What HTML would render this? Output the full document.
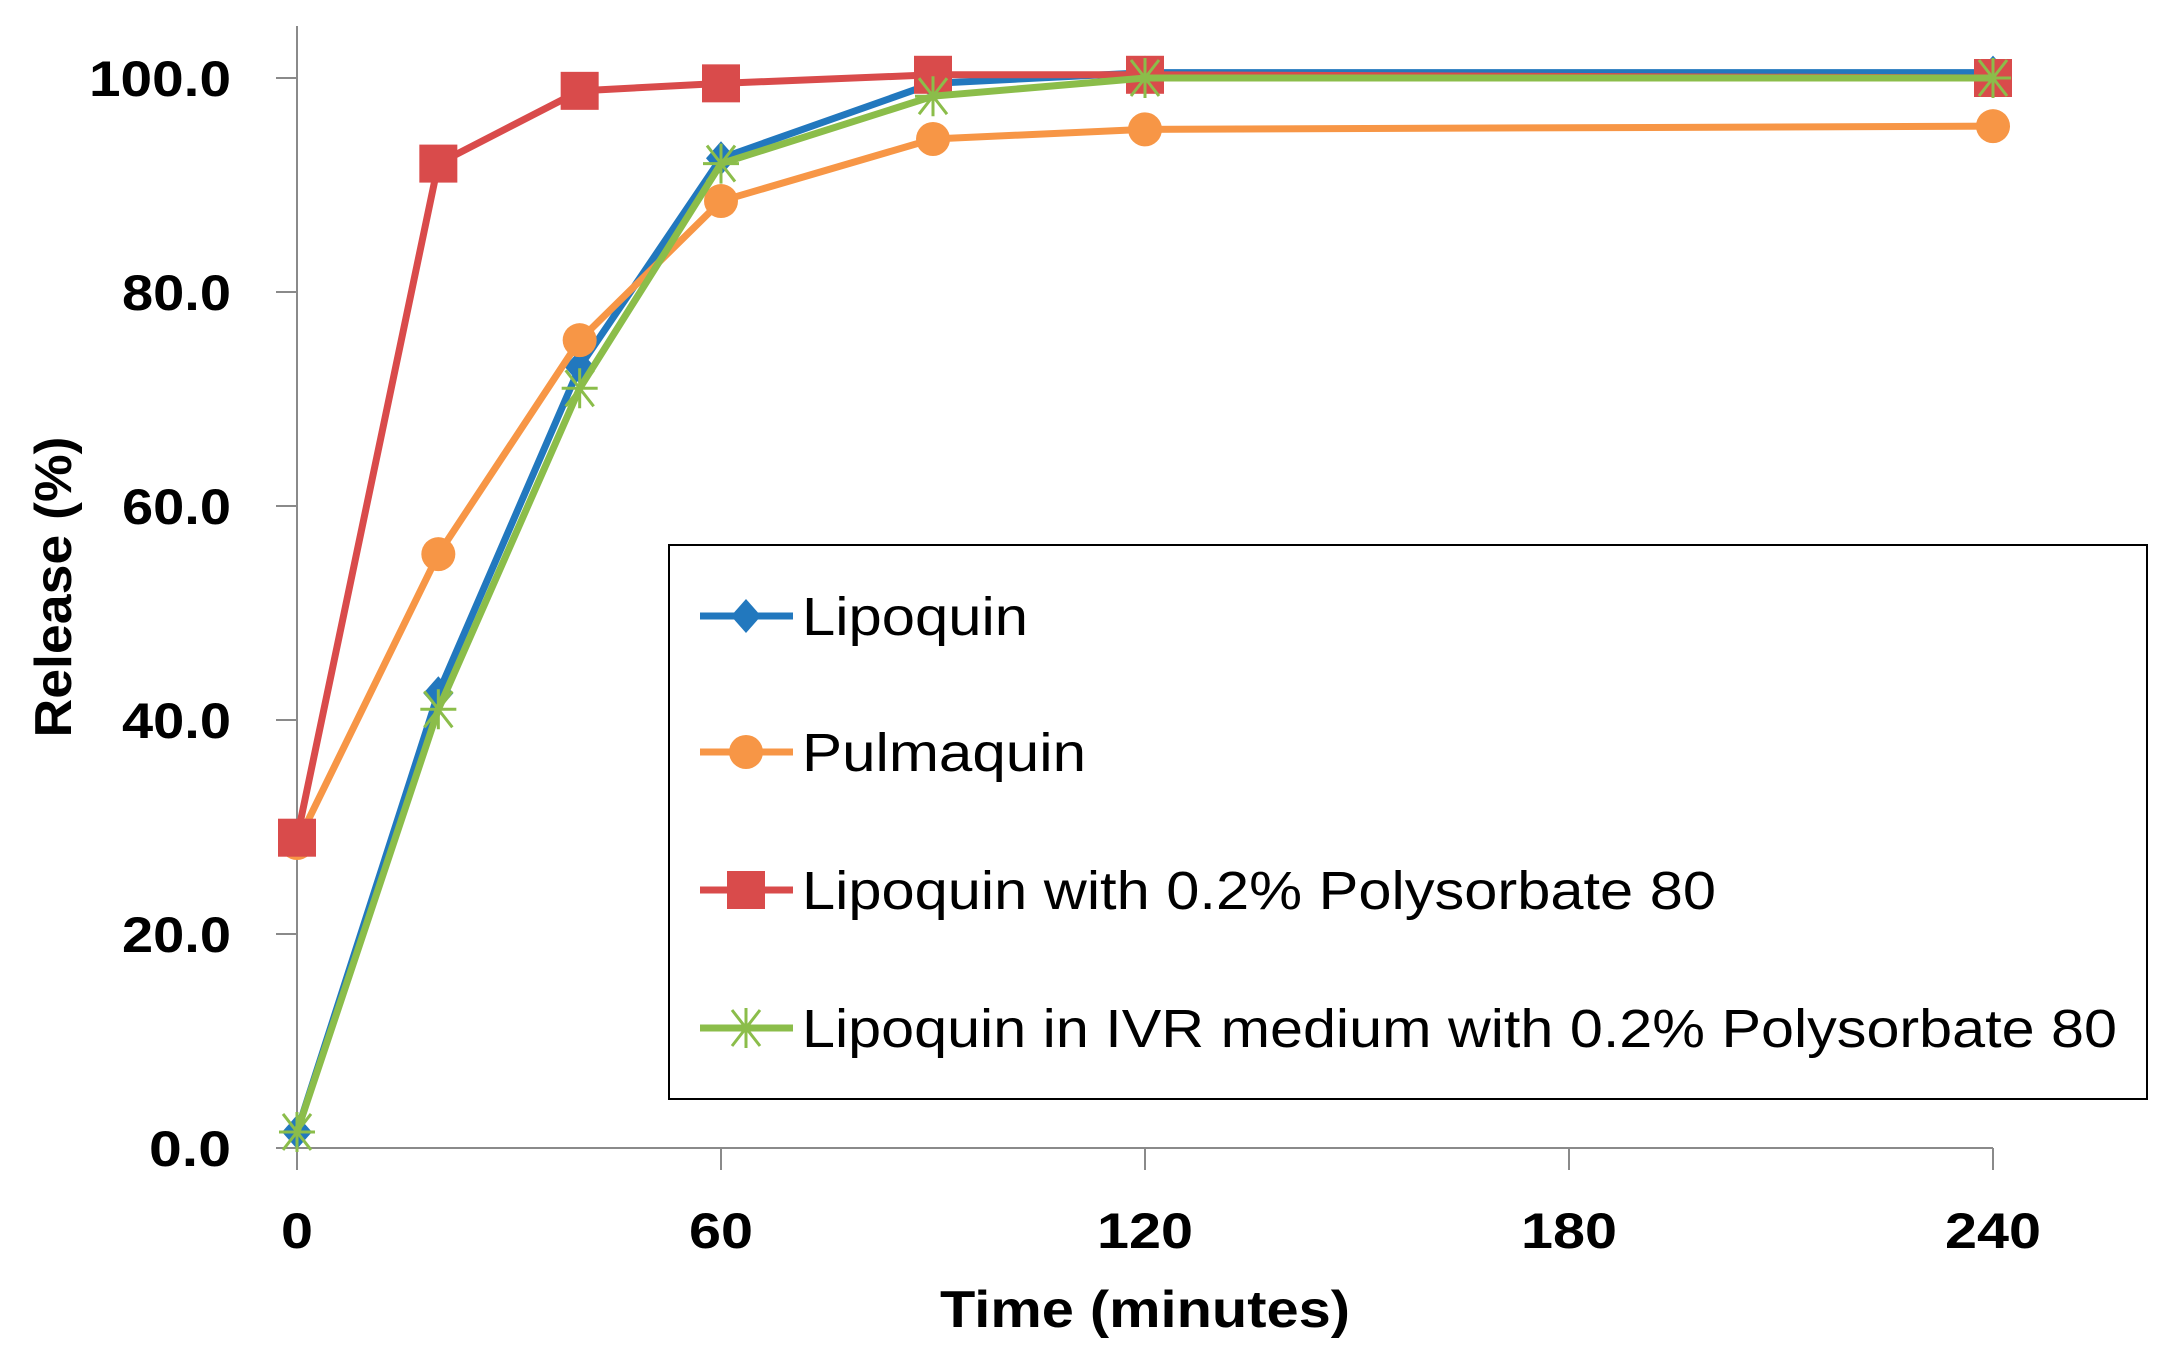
<!DOCTYPE html>
<html><head><meta charset="utf-8"><style>
html,body{margin:0;padding:0;background:#fff;}
svg{display:block;}
text{font-family:"Liberation Sans",Arial,sans-serif;}
</style></head><body>
<svg id="chart" width="2182" height="1368" viewBox="0 0 2182 1368">
<g id="axes"></g>
<g id="series"></g>
<g id="legend"></g>
</svg>
<script>
const times = [0, 20, 40, 60, 90, 120, 240];
const lipoquin = [1.5, 42.5, 73, 92.5, 99.5, 100.5, 100.5];
const pulmaquin = [28.5, 55.5, 75.5, 88.5, 94.3, 95.2, 95.5];
const lipoquinPS80 = [29, 92, 98.8, 99.5, 100.3, 100.3, 100];
const lipoquinIVR = [1.5, 41, 71, 92, 98.3, 100, 100];
const yTicks = [0, 20, 40, 60, 80, 100];
const yTickLabels = ["0.0", "20.0", "40.0", "60.0", "80.0", "100.0"];
const xTicks = [0, 60, 120, 180, 240];
const xTickLabels = ["0", "60", "120", "180", "240"];
const seriesNames = ["Lipoquin", "Pulmaquin", "Lipoquin with 0.2% Polysorbate 80", "Lipoquin in IVR medium with 0.2% Polysorbate 80"];

const NS = "http://www.w3.org/2000/svg";
const X0 = 297, X1 = 1993, Y0 = 1148, Y1 = 78;
function xs(v){ return X0 + (v - 0) / 240 * (X1 - X0); }
function ys(v){ return Y0 - v / 100 * (Y0 - Y1); }
function mk(tag, attrs, parent){ const e = document.createElementNS(NS, tag); for (const k in attrs) e.setAttribute(k, attrs[k]); parent.appendChild(e); return e; }

const axes = document.getElementById('axes');
const yAxis = mk('line', {x1:X0, y1:26, x2:X0, y2:Y0, stroke:'#8a8a8a', 'stroke-width':2}, axes);


const xAxis = mk('line', {x1:X0, y1:Y0, x2:X1, y2:Y0, stroke:'#8a8a8a', 'stroke-width':2}, axes);


const yLabelWidths = {"0.0":82,"20.0":109,"40.0":109,"60.0":109,"80.0":109,"100.0":142};
yTicks.forEach((v, i) => {
  const t = mk('line', {x1:X0-21, y1:ys(v), x2:X0, y2:ys(v), stroke:'#8a8a8a', 'stroke-width':2}, axes);
  
  
  const l = mk('text', {x:231, y:ys(v)+18, 'text-anchor':'end', 'font-size':50, 'font-weight':'bold', fill:'#000', textLength:yLabelWidths[yTickLabels[i]], lengthAdjust:'spacingAndGlyphs'}, axes);
  l.textContent = yTickLabels[i];
  
  
});
xTicks.forEach((v, i) => {
  const t = mk('line', {x1:xs(v), y1:Y0, x2:xs(v), y2:Y0+22, stroke:'#8a8a8a', 'stroke-width':2}, axes);
  
  
  const w = xTickLabels[i].length * 32;
  const l = mk('text', {x:xs(v), y:1248, 'text-anchor':'middle', 'font-size':50, 'font-weight':'bold', fill:'#000', textLength:w, lengthAdjust:'spacingAndGlyphs'}, axes);
  l.textContent = xTickLabels[i];
  
  
});
const xt = mk('text', {x:1145, y:1327, 'text-anchor':'middle', 'font-size':52, 'font-weight':'bold', fill:'#000', textLength:410, lengthAdjust:'spacingAndGlyphs'}, axes);
xt.textContent = 'Time (minutes)';


const yt = mk('text', {x:0, y:0, 'text-anchor':'middle', 'font-size':52, 'font-weight':'bold', fill:'#000', textLength:301, lengthAdjust:'spacingAndGlyphs', transform:'translate(71,587) rotate(-90)'}, axes);
yt.textContent = 'Release (%)';



function marker(type, x, y, color, parent){
  let e;
  if (type === 'diamond') e = mk('polygon', {points:`${x},${y-17} ${x+15},${y} ${x},${y+17} ${x-15},${y}`, fill:color}, parent);
  else if (type === 'circle') e = mk('circle', {cx:x, cy:y, r:17, fill:color}, parent);
  else if (type === 'square') e = mk('rect', {x:x-19, y:y-19, width:38, height:38, fill:color}, parent);
  else {
    e = mk('path', {d:`M${x-14},${y-18}L${x+14},${y+18}M${x+14},${y-18}L${x-14},${y+18}M${x},${y-20}L${x},${y+20}M${x-18},${y}L${x+18},${y}`, stroke:color, 'stroke-width':3, fill:'none'}, parent);
  }
  return e;
}
const seriesData = [lipoquin, pulmaquin, lipoquinPS80, lipoquinIVR];
const colors = ['#2278be', '#f79646', '#d94b4b', '#8bbd4a'];
const markers = ['diamond', 'circle', 'square', 'star'];
const seriesKeys = ['lipoquin', 'pulmaquin', 'lipoquin-ps80', 'lipoquin-ivr'];
const sg = document.getElementById('series');
seriesData.forEach((vals, s) => {
  const g = mk('g', {}, sg);
  
  
  const pts = vals.map((v, i) => xs(times[i]) + ',' + ys(v)).join(' ');
  const pl = mk('polyline', {points:pts, fill:'none', stroke:colors[s], 'stroke-width':7, 'stroke-linejoin':'round'}, g);
  
  
  vals.forEach((v, i) => {
    const m = marker(markers[s], xs(times[i]), ys(v), colors[s], g);
    
    
  });
});

const lg = document.getElementById('legend');
const box = mk('rect', {x:669, y:545, width:1478, height:554, fill:'#fff', stroke:'#000', 'stroke-width':2}, lg);


const legY = [616, 752, 890, 1028];
const legW = [226, 284, 914, 1315];
seriesNames.forEach((n, s) => {
  const g = mk('g', {}, lg);
  
  
  const l = mk('line', {x1:700, y1:legY[s], x2:793, y2:legY[s], stroke:colors[s], 'stroke-width':7}, g);
  
  
  const m = marker(markers[s], 746, legY[s], colors[s], g);
  
  
  const t = mk('text', {x:802, y:legY[s]+19, 'font-size':54, fill:'#000', textLength:legW[s], lengthAdjust:'spacingAndGlyphs'}, g);
  t.textContent = n;
  
  
});
</script>
</body></html>
